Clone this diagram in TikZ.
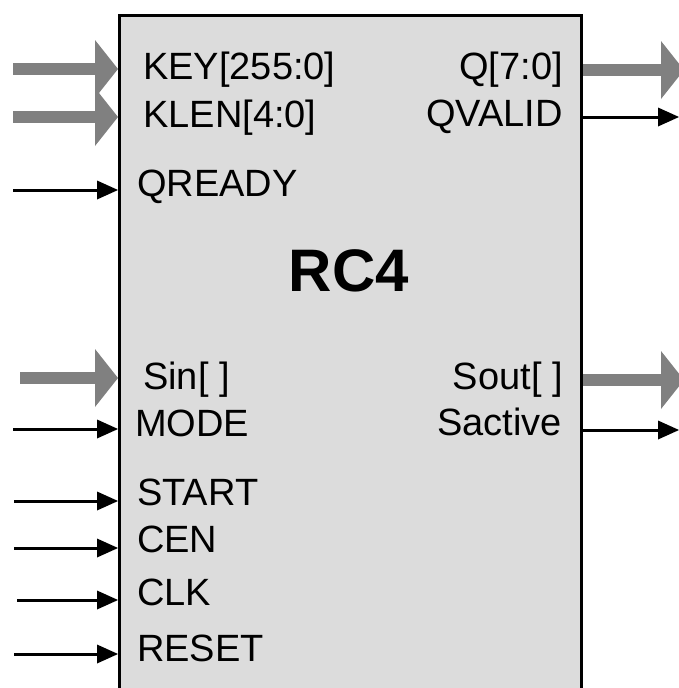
\documentclass[tikz,border=0pt]{standalone}
\usepackage{fontspec}
\setmainfont{Liberation Sans}
\usetikzlibrary{arrows.meta}
\definecolor{busgray}{RGB}{128,128,128}
\definecolor{boxfill}{RGB}{220,220,220}
\begin{document}
\begin{tikzpicture}[x=1pt,y=-1pt,
  bus/.style={draw=busgray, line width=12pt, -{Triangle[length=23pt,width=58pt,line width=0pt]}},
  wire/.style={draw=black, line width=3pt, -{Triangle[length=21pt,width=19pt,line width=0pt]}},
  blockbox/.style={draw=black, line width=3pt, fill=boxfill, inner sep=0pt, anchor=north west},
  lbl/.style={inner sep=0pt, anchor=base west, font=\fontsize{38}{40}\selectfont},
  rlbl/.style={inner sep=0pt, anchor=base east, font=\fontsize{38}{40}\selectfont},
  title/.style={inner sep=0pt, font=\fontsize{60}{62}\selectfont\bfseries}]
\useasboundingbox (0,0) rectangle (679,688);
\clip (0,0) rectangle (679,688);
\node[blockbox, minimum width=462pt, minimum height=700pt] (rc4) at (118,14) {};
\node[title] (name) at (349,271) {RC4};
% left labels
\node[lbl] (lkey) at (143,79) {KEY[255:0]};
\node[lbl] (lklen) at (143,127) {KLEN[4:0]};
\node[lbl] (lqready) at (137,196) {QREADY};
\node[lbl] (lsin) at (143,389) {Sin[ ]};
\node[lbl] (lmode) at (135,436) {MODE};
\node[lbl] (lstart) at (137,505) {START};
\node[lbl] (lcen) at (137,552) {CEN};
\node[lbl] (lclk) at (137,605) {CLK};
\node[lbl] (lreset) at (137,661) {RESET};
% right labels
\node[rlbl] (lq) at (563,79) {Q[7:0]};
\node[rlbl] (lqvalid) at (563,126) {QVALID};
\node[rlbl] (lsout) at (563,389) {Sout[ ]};
\node[rlbl] (lsactive) at (562,435) {Sactive};
% input free ends
\coordinate (ikey) at (13,69);
\coordinate (iklen) at (13,117);
\coordinate (iqready) at (13,190);
\coordinate (isin) at (20,378);
\coordinate (imode) at (13,429);
\coordinate (istart) at (14,501);
\coordinate (icen) at (14,548);
\coordinate (iclk) at (17,600);
\coordinate (ireset) at (14,654);
% output free ends
\coordinate (oq) at (684,70);
\coordinate (oqvalid) at (679,117);
\coordinate (osout) at (684,380);
\coordinate (osactive) at (679,430);
% inputs
\draw[bus] (ikey) -- (ikey -| rc4.west);
\draw[bus] (iklen) -- (iklen -| rc4.west);
\draw[wire] (iqready) -- (iqready -| rc4.west);
\draw[bus] (isin) -- (isin -| rc4.west);
\draw[wire] (imode) -- (imode -| rc4.west);
\draw[wire] (istart) -- (istart -| rc4.west);
\draw[wire] (icen) -- (icen -| rc4.west);
\draw[wire] (iclk) -- (iclk -| rc4.west);
\draw[wire] (ireset) -- (ireset -| rc4.west);
% outputs
\draw[bus] (oq -| rc4.east) -- (oq);
\draw[wire] (oqvalid -| rc4.east) -- (oqvalid);
\draw[bus] (osout -| rc4.east) -- (osout);
\draw[wire] (osactive -| rc4.east) -- (osactive);
\end{tikzpicture}
\end{document}
